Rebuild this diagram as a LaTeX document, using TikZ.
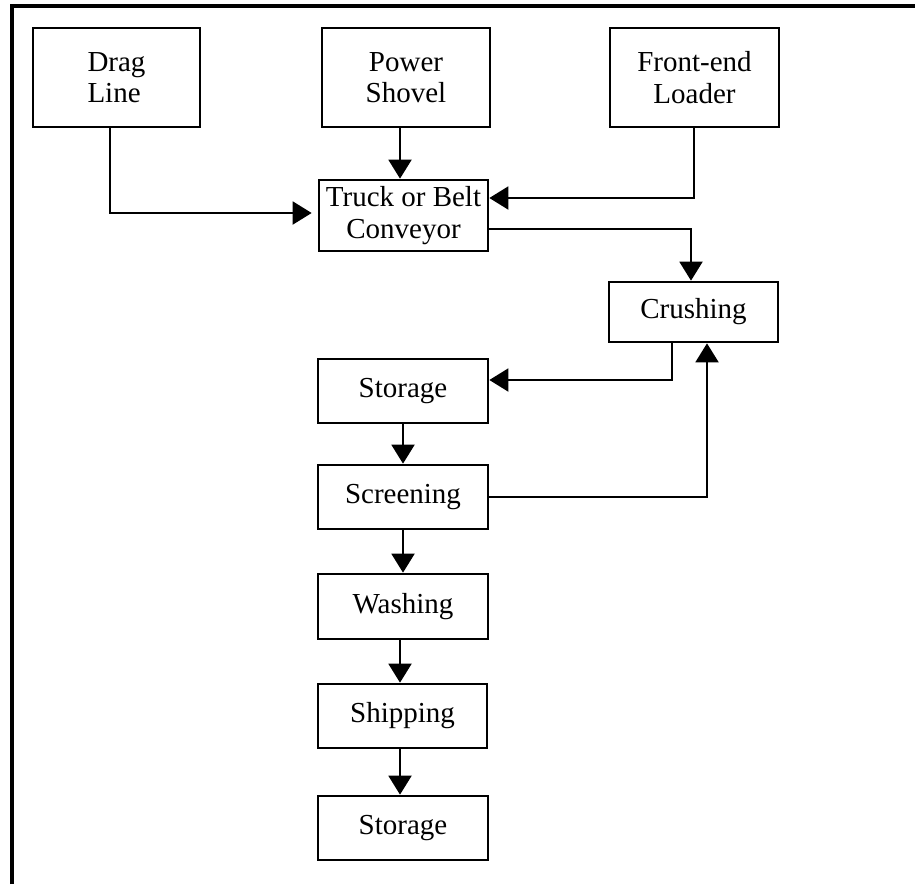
\documentclass[tikz,border=0pt]{standalone}
\usepackage{fontspec}
\setmainfont{Liberation Serif}
\usetikzlibrary{arrows.meta}
\begin{document}
\begin{tikzpicture}[x=1pt,y=-1pt,
  box/.style={draw, line width=2.7pt, rectangle, align=center, inner sep=0pt,
    font=\fontsize{29}{31.5}\selectfont},
  conn/.style={line width=2pt, -{Triangle[width=23pt,length=19pt]}},
  plain/.style={line width=2pt}]
\useasboundingbox (0,0) rectangle (915,884);
% frame
\draw[line width=4pt] (12,884) -- (12,6) -- (915,6);
% nodes
\node[box, minimum width=167, minimum height=99, align=left] (drag) at (116.5,77.5) {Drag\\Line};
\node[box, minimum width=168, minimum height=99] (shovel) at (406,77.5) {Power\\Shovel};
\node[box, minimum width=169, minimum height=99] (loader) at (694.5,77.5) {Front-end\\Loader};
\node[box, minimum width=169, minimum height=71] (truck) at (403.5,215.5) {Truck or Belt\\Conveyor};
\node[box, minimum width=169, minimum height=60] (crush) at (693.5,312) {Crushing};
\node[box, minimum width=170, minimum height=64] (store1) at (403,391) {Storage};
\node[box, minimum width=170, minimum height=64] (screen) at (403,497) {Screening};
\node[box, minimum width=170, minimum height=65] (wash) at (403,606.5) {Washing};
\node[box, minimum width=169, minimum height=64] (ship) at (402.5,716) {Shipping};
\node[box, minimum width=170, minimum height=64] (store2) at (403,828) {Storage};
% connectors
\draw[conn, shorten >=6pt] ([xshift=-6.5pt]drag.south) |- ([yshift=2.5pt]truck.west);
\draw[conn] ([xshift=-6pt]shovel.south) -- ([xshift=-6pt]shovel.south |- truck.north);
\draw[conn] ([xshift=-0.5pt]loader.south) |- ([yshift=17.5pt]truck.east);
\draw[conn] ([yshift=-13.5pt]truck.east) -| ([xshift=-2.5pt]crush.north);
\draw[conn] ([xshift=-21.5pt]crush.south) |- ([yshift=11pt]store1.east);
\draw[conn] (screen.east) -| ([xshift=13.5pt]crush.south);
\draw[conn] (store1.south) -- (screen.north);
\draw[conn] (screen.south) -- (wash.north);
\draw[conn] ([xshift=-3pt]wash.south) -- ([xshift=-3pt]wash.south |- ship.north);
\draw[conn] ([xshift=-2.5pt]ship.south) -- ([xshift=-2.5pt]ship.south |- store2.north);
\end{tikzpicture}
\end{document}
